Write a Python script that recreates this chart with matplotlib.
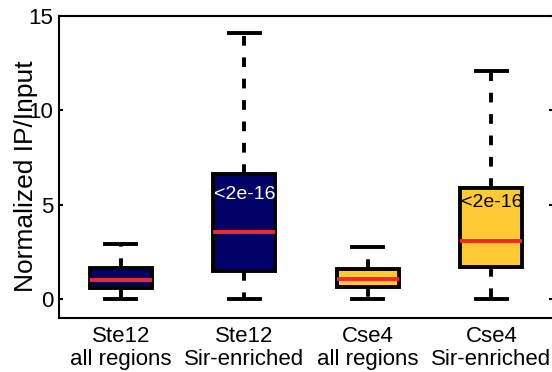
import matplotlib
matplotlib.use('agg')
import matplotlib.pyplot as plt
import numpy as np

plt.rcParams['font.family'] = ['Liberation Sans', 'DejaVu Sans']

labels = ['Ste12\nall regions', 'Ste12\nSir-enriched', 'Cse4\nall regions', 'Cse4\nSir-enriched']
q1 = [0.58, 1.5, 0.64, 1.7]
med = [1.0, 3.56, 1.06, 3.09]
q3 = [1.65, 6.65, 1.6, 5.9]
lo = [0.0, 0.0, 0.0, 0.0]
hi = [2.93, 14.1, 2.77, 12.07]
colors = ['#000066', '#000066', '#FFC933', '#FFC933']
pvals = [None, '<2e-16', None, '<2e-16']
pval_y = [None, 5.55, None, 5.1]
pval_col = [None, 'white', None, 'black']

stats = []
for i in range(4):
    stats.append({'q1': q1[i], 'med': med[i], 'q3': q3[i],
                  'whislo': lo[i], 'whishi': hi[i], 'fliers': []})

fig = plt.figure(figsize=(5.52, 3.72), dpi=100)
ax = fig.add_axes([0.107, 0.145, 0.895, 0.812])
pos = np.arange(1, 5)
bp = ax.bxp(stats, positions=pos, widths=0.5, capwidths=0.25, patch_artist=True,
            showfliers=False,
            boxprops=dict(linewidth=2.8, edgecolor='black'),
            whiskerprops=dict(linewidth=2.8, color='black', linestyle=(0, (2.5, 3))),
            capprops=dict(linewidth=2.8, color='black'),
            medianprops=dict(linewidth=2.8, color='#F42828'))
for b, c in zip(bp['boxes'], colors):
    b.set_facecolor(c)

# p-values written inside the Sir-enriched boxes
for i in range(4):
    if pvals[i]:
        ax.text(pos[i], pval_y[i], pvals[i], ha='center', va='center',
                fontsize=14, color=pval_col[i])

ax.set_xlim(0.5, 4.5)
ax.set_ylim(-1, 15)
ax.set_yticks([0, 5, 10, 15])
ax.set_xticks(pos)
ax.set_xticklabels(labels, fontsize=16, linespacing=1.1)
ax.tick_params(axis='y', direction='in', right=True, length=3, width=1.5, labelsize=16, pad=4)
ax.tick_params(axis='x', length=0, pad=6)
for s in ax.spines.values():
    s.set_linewidth(1.5)
ax.set_ylabel('Normalized IP/Input', fontsize=19)
ax.yaxis.set_label_coords(-0.043, 0.47)

plt.savefig('out.png')
